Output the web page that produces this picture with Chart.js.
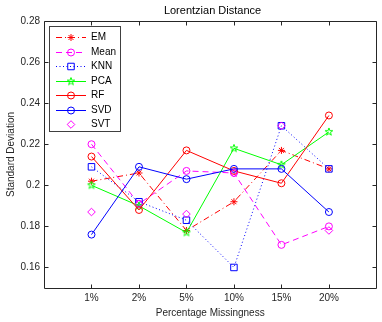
<!DOCTYPE html>
<html>
<head>
<meta charset="utf-8">
<script src="https://cdn.jsdelivr.net/npm/chart.js@4/dist/chart.umd.min.js"></script>
<style>
html,body{margin:0;padding:0;background:#fff;}
canvas{display:block;}
</style>
</head>
<body>
<canvas id="c" width="382" height="322"></canvas>
<script>
const categories = ['1%', '2%', '5%', '10%', '15%', '20%'];
const emValues   = [0.202, 0.206, 0.178, 0.192, 0.217, 0.208];
const meanValues = [0.220, 0.191, 0.207, 0.206, 0.171, 0.180];
const knnValues  = [0.209, 0.192, 0.183, 0.160, 0.229, 0.208];
const pcaValues  = [0.200, 0.190, 0.177, 0.218, 0.210, 0.226];
const rfValues   = [0.214, 0.188, 0.217, 0.207, 0.201, 0.234];
const svdValues  = [0.176, 0.209, 0.203, 0.208, 0.208, 0.187];
const svtValues  = [0.187, 0.191, 0.186, 0.206, 0.229, 0.178];
const yTicks = [0.16, 0.18, 0.20, 0.22, 0.24, 0.26, 0.28];
const titleText = 'Lorentzian Distance';
const xTitle = 'Percentage Missingness';
const yTitle = 'Standard Deviation';

const FONT = "'Liberation Sans', Arial, Helvetica, sans-serif";
const AX = '#262626';

function makePentagram(color, r) {
  const size = Math.ceil(r * 2 + 2);
  const c = document.createElement('canvas');
  c.width = size; c.height = size;
  const g = c.getContext('2d');
  const cx = size / 2, cy = size / 2;
  g.beginPath();
  for (let i = 0; i < 10; i++) {
    const rr = i % 2 === 0 ? r : r * 0.4;
    const a = -Math.PI / 2 + i * Math.PI / 5;
    const px = cx + rr * Math.cos(a), py = cy + rr * Math.sin(a);
    if (i === 0) g.moveTo(px, py); else g.lineTo(px, py);
  }
  g.closePath();
  g.strokeStyle = color; g.lineWidth = 1; g.stroke();
  return c;
}

function toPts(arr) { return arr.map((v, i) => ({x: i + 1, y: v})); }

function ds(label, values, color, dash, style, radius, showLine) {
  return {
    label, data: toPts(values), borderColor: color, backgroundColor: 'rgba(0,0,0,0)',
    borderWidth: 1, borderDash: dash, showLine: showLine,
    pointStyle: style, pointRadius: radius, pointBorderColor: color,
    pointBackgroundColor: 'rgba(0,0,0,0)', pointBorderWidth: 1, tension: 0, fill: false
  };
}

const datasets = [
  ds('EM', emValues, '#ff0000', [6, 3, 1, 3], 'star', 3.5, true),
  ds('Mean', meanValues, '#ff00ff', [6, 4], 'circle', 3.5, true),
  ds('KNN', knnValues, '#0000ff', [1, 2.5], 'rect', 4.6, true),
  ds('PCA', pcaValues, '#00ff00', [], makePentagram('#00ff00', 4), 4, true),
  ds('RF', rfValues, '#ff0000', [], 'circle', 3.5, true),
  ds('SVD', svdValues, '#0000ff', [], 'circle', 3.5, true),
  ds('SVT', svtValues, '#ff00ff', [], 'rectRot', 3.8, false)
];
datasets.forEach((d, i) => { d.order = datasets.length - i; });

function drawMarker(ctx, style, r, x, y, color) {
  ctx.save();
  ctx.strokeStyle = color; ctx.lineWidth = 1; ctx.setLineDash([]);
  if (style instanceof HTMLCanvasElement) {
    ctx.drawImage(style, x - style.width / 2, y - style.height / 2);
  } else {
    ctx.beginPath();
    if (style === 'circle') {
      ctx.arc(x, y, r, 0, Math.PI * 2);
    } else if (style === 'rect') {
      const s = r * Math.SQRT1_2;
      ctx.rect(x - s, y - s, 2 * s, 2 * s);
    } else if (style === 'rectRot') {
      ctx.moveTo(x - r, y); ctx.lineTo(x, y - r); ctx.lineTo(x + r, y); ctx.lineTo(x, y + r); ctx.closePath();
    } else if (style === 'star') {
      ctx.moveTo(x - r, y); ctx.lineTo(x + r, y);
      ctx.moveTo(x, y - r); ctx.lineTo(x, y + r);
      const d = r * Math.SQRT1_2;
      ctx.moveTo(x - d, y - d); ctx.lineTo(x + d, y + d);
      ctx.moveTo(x - d, y + d); ctx.lineTo(x + d, y - d);
    }
    ctx.stroke();
  }
  ctx.restore();
}

const framePlugin = {
  id: 'frame',
  afterDraw(chart) {
    const ctx = chart.ctx;
    const {left, right, top, bottom} = chart.chartArea;
    const xs = chart.scales.x, ys = chart.scales.y;
    const L = Math.floor(left) + 0.5, R = Math.floor(right) + 0.5;
    const T = Math.floor(top) + 0.5, B = Math.floor(bottom) + 0.5;
    ctx.save();
    ctx.strokeStyle = AX; ctx.lineWidth = 1; ctx.setLineDash([]);
    ctx.beginPath();
    ctx.rect(L, T, R - L, B - T);
    const tl = 4;
    xs.ticks.forEach(t => {
      const px = Math.round(xs.getPixelForValue(t.value)) + 0.5;
      ctx.moveTo(px, B); ctx.lineTo(px, B - tl);
      ctx.moveTo(px, T); ctx.lineTo(px, T + tl);
    });
    ys.ticks.forEach(t => {
      const py = Math.round(ys.getPixelForValue(t.value)) + 0.5;
      ctx.moveTo(L, py); ctx.lineTo(L + tl, py);
      ctx.moveTo(R, py); ctx.lineTo(R - tl, py);
    });
    ctx.stroke();

    // title
    ctx.fillStyle = '#000';
    ctx.font = '11px ' + FONT;
    ctx.textAlign = 'center'; ctx.textBaseline = 'middle';
    ctx.fillText(titleText, (left + 381) / 2, 11);

    // legend
    const bx = 49.5, by = 26.5, bw = 71, bh = 105;
    ctx.fillStyle = '#fff';
    ctx.fillRect(bx, by, bw, bh);
    ctx.strokeStyle = '#404040';
    ctx.strokeRect(bx, by, bw, bh);
    ctx.font = '10px ' + FONT;
    ctx.textAlign = 'left'; ctx.textBaseline = 'middle';
    chart.data.datasets.forEach((d, i) => {
      const y = 37 + i * 14.5;
      if (d.showLine) {
        ctx.save();
        ctx.strokeStyle = d.borderColor; ctx.lineWidth = 1;
        ctx.setLineDash(d.borderDash || []);
        ctx.beginPath(); ctx.moveTo(56, Math.round(y) + 0.5); ctx.lineTo(86, Math.round(y) + 0.5); ctx.stroke();
        ctx.restore();
      }
      drawMarker(ctx, d.pointStyle, d.pointRadius, 71, Math.round(y) + 0.5, d.borderColor);
      ctx.fillStyle = '#000';
      ctx.fillText(d.label, 91, y + 0.5);
    });
    ctx.restore();
  }
};

new Chart(document.getElementById('c'), {
  type: 'line',
  data: { datasets },
  plugins: [framePlugin],
  options: {
    responsive: false, animation: false, devicePixelRatio: 1,
    layout: { padding: { top: 21, right: 0, left: 0, bottom: 0 } },
    plugins: { legend: { display: false }, title: { display: false }, tooltip: { enabled: false } },
    scales: {
      x: {
        type: 'linear', min: 0, max: 7,
        afterBuildTicks: s => { s.ticks = categories.map((c, i) => ({ value: i + 1 })); },
        afterFit: s => { s.height = 34; },
        ticks: {
          autoSkip: false, maxRotation: 0, padding: 4, color: AX,
          font: { family: FONT, size: 10 },
          callback: v => categories[v - 1] ?? ''
        },
        grid: { display: false, drawTicks: false },
        border: { display: false },
        title: { display: true, text: xTitle, color: AX, font: { family: FONT, size: 10 }, padding: { top: 0, bottom: 3 } }
      },
      y: {
        type: 'linear', min: 0.15, max: 0.28,
        afterBuildTicks: s => { s.ticks = yTicks.map(v => ({ value: v })); },
        afterFit: s => { s.width = 44; },
        ticks: {
          padding: 4, color: AX, font: { family: FONT, size: 10 },
          callback: v => String(Number(v.toFixed(2)))
        },
        grid: { display: false, drawTicks: false },
        border: { display: false },
        title: { display: true, text: yTitle, color: AX, font: { family: FONT, size: 10 }, padding: { top: 5, bottom: 0 } }
      }
    }
  }
});
</script>
</body>
</html>
